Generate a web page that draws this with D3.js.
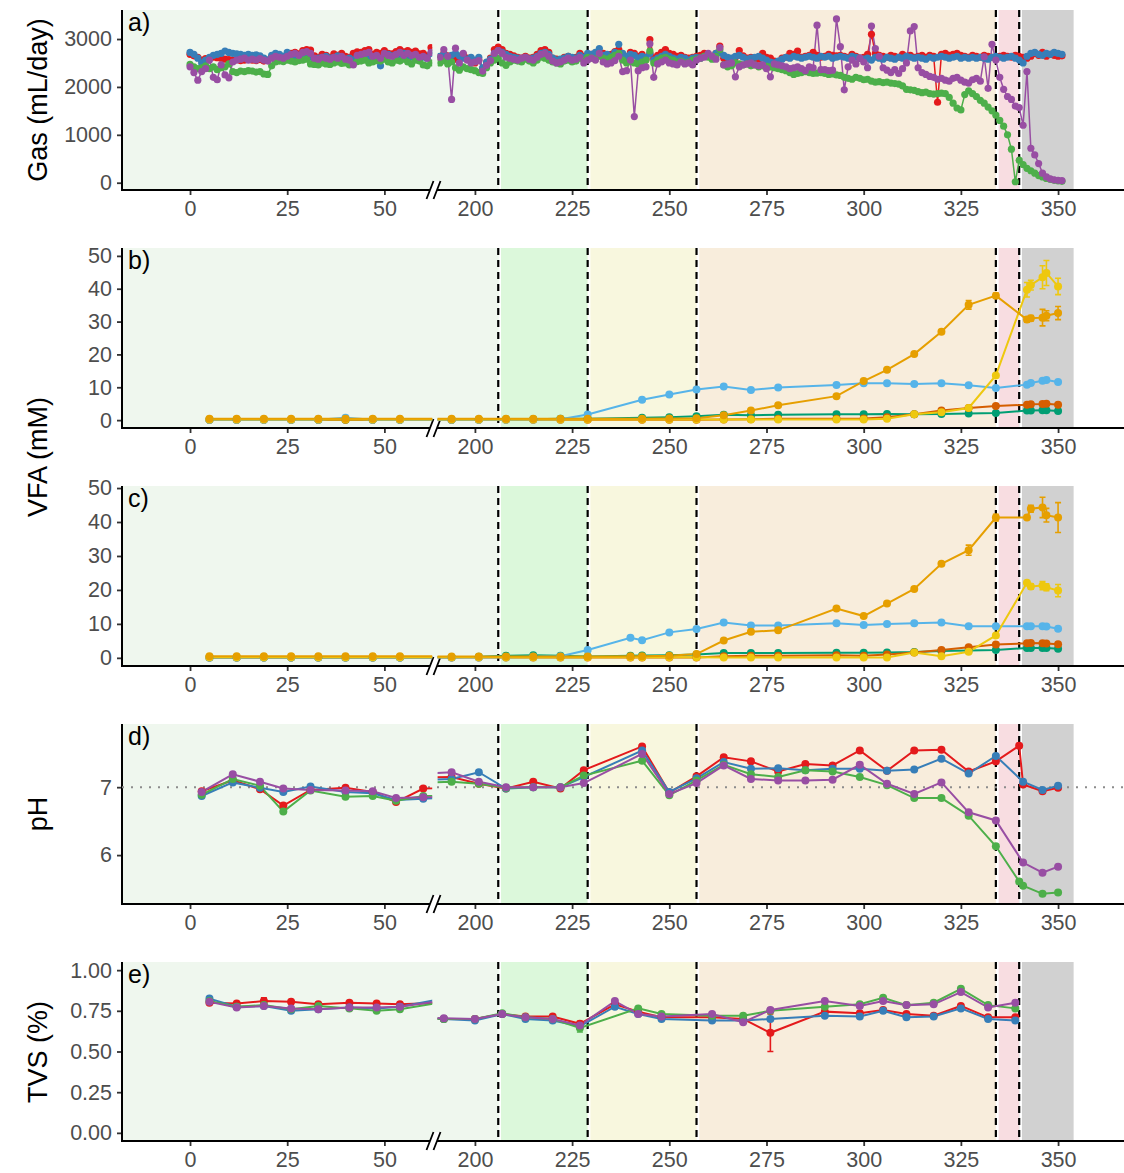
<!DOCTYPE html>
<html>
<head>
<meta charset="utf-8">
<script src="https://cdn.jsdelivr.net/npm/d3@7"></script>
<style>
  body { margin: 0; background: #fff; }
  text { font-family: "Liberation Sans", Arial, Helvetica, sans-serif; }
</style>
</head>
<body>
<script>
//------------------------------- DATA -------------------------------------------

// reactor colours (gas, pH, TVS)
const red = "#E41A1C", blue = "#377EB8", green = "#4DAF4A", purple = "#984EA3";
// VFA colours
const vOrange = "#E69F00", vSky = "#56B4E9", vGreen = "#009E73", vYellow = "#EEC80F", vRed = "#D55E00";

// phases
const phaseStart = [-17.5, 206, 229, 257, 334, 340];
const phaseEnd = [206, 229, 257, 334, 340, 354];
const phaseColor = ["#EFF7EE", "#DCF8DB", "#F8F7DE", "#F8EDDC", "#F8DDE1", "#D1D1D1"];
const phaseLines = [206, 229, 257, 334, 340];

const xTicksLeft = [0, 25, 50];
const xTicksRight = [200, 225, 250, 275, 300, 325, 350];

// ---- gas (mL/day), daily
const gasDaysLeft = d3.range(0, 63);
const gasDaysRight = d3.range(191, 352);

const gasRedLeft = [2680,2650,2620,2560,2590,2600,2620,2610,2600,2580,
  2570,2560,2570,2550,2560,2580,2560,2550,2570,2540,
  2560,2620,2650,2640,2620,2660,2700,2720,2690,2760,
  2780,2770,2650,2620,2680,2660,2620,2690,2660,2700,
  2640,2620,2700,2730,2720,2760,2780,2680,2720,2700,
  2760,2700,2690,2740,2780,2730,2760,2720,2750,2690,
  2700,2650,2820];
const gasBlueLeft = [2720,2680,2600,2500,2560,2620,2660,2680,2700,2750,
  2720,2700,2690,2680,2660,2680,2660,2670,2650,2600,
  2560,2660,2700,2680,2640,2720,2650,2620,2660,2700,
  2680,2620,2580,2600,2620,2640,2600,2620,2650,2620,
  2580,2600,2560,2620,2640,2650,2620,2600,2560,2440,
  2620,2680,2650,2600,2680,2700,2650,2620,2600,2580,
  2620,2600,2700];
const gasGreenLeft = [2470,2420,2380,2400,2440,2380,2420,2360,2400,2420,
  2480,2320,2300,2330,2320,2340,2330,2310,2320,2270,
  2260,2440,2520,2540,2530,2560,2540,2520,2550,2560,
  2580,2480,2470,2460,2500,2480,2470,2500,2520,2490,
  2500,2460,2480,2530,2540,2560,2500,2520,2550,2540,
  2580,2520,2500,2560,2540,2580,2520,2480,2560,2540,
  2460,2440,2500];
const gasPurpleLeft = [2420,2300,2140,2320,2380,2560,2200,2150,2460,2250,
  2190,2520,2560,2580,2600,2560,2580,2560,2590,2560,
  2540,2600,2640,2620,2600,2640,2680,2700,2660,2720,
  2740,2700,2600,2580,2620,2600,2580,2620,2600,2640,
  2580,2560,2460,2660,2680,2700,2720,2640,2660,2600,
  2700,2660,2640,2680,2720,2660,2700,2660,2680,2620,
  2640,2600,2720];

const gasRedRight = [2620,2700,2650,2600,2580,2620,2680,2600,2560,2500,
  2560,2380,2500,2600,2780,2830,2780,2700,2680,2650,
  2620,2600,2640,2600,2620,2680,2760,2780,2720,2600,
  2580,2560,2620,2640,2600,2620,2700,2640,2660,2680,
  2640,2720,2700,2660,2680,2740,2780,2660,2600,2720,
  2700,2640,2680,2580,2990,2600,2660,2720,2780,2700,
  2680,2640,2660,2620,2600,2620,2640,2660,2700,2680,
  2620,2700,2850,2600,2540,2580,2620,2760,2650,2600,
  2620,2560,2580,2700,2620,2600,2540,2520,2600,2620,
  2700,2680,2750,2620,2640,2660,2720,2660,2620,2640,
  2680,2660,2650,2660,2640,2620,2680,2640,2600,2620,
  2680,3100,2700,2660,2640,2620,2660,2640,2620,2680,
  2640,2660,2620,2640,2660,2620,2660,2640,1680,2680,
  2700,2660,2680,2700,2660,2640,2620,2660,2640,2620,
  2660,2640,2620,2600,2640,2660,2640,2620,2660,2640,
  2620,2600,2640,2700,2660,2720,2640,2680,2660,2640,
  2650];
const gasBlueRight = [2640,2680,2620,2660,2700,2650,2600,2580,2620,2560,
  2620,2400,2520,2580,2700,2760,2720,2680,2640,2620,
  2600,2580,2620,2580,2600,2640,2700,2720,2680,2600,
  2560,2580,2600,2640,2620,2600,2660,2620,2700,2680,
  2720,2800,2660,2680,2640,2720,2890,2700,2640,2680,
  2660,2600,2640,2620,2700,2560,2600,2640,2680,2640,
  2600,2580,2620,2600,2560,2600,2620,2600,2640,2660,
  2640,2700,2720,2660,2620,2600,2640,2660,2620,2580,
  2600,2620,2640,2600,2560,2520,2500,2540,2580,2620,
  2600,2640,2620,2600,2620,2640,2620,2600,2640,2620,
  2640,2600,2620,2640,2620,2600,2640,2620,2600,2580,
  2600,2560,2620,2600,2580,2620,2600,2580,2620,2600,
  2640,2620,2600,2620,2600,2580,2620,2600,2620,2640,
  2620,2600,2620,2640,2600,2620,2600,2620,2600,2620,
  2600,2580,2620,2640,2620,2600,2620,2640,2600,2560,
  2500,2640,2700,2720,2680,2660,2700,2680,2720,2700,
  2680];
const gasGreenRight = [2500,2550,2480,2520,2400,2350,2420,2380,2360,2340,
  2300,2280,2400,2500,2560,2600,2500,2450,2520,2560,
  2540,2520,2580,2540,2500,2560,2620,2600,2560,2520,
  2500,2480,2540,2560,2520,2540,2600,2560,2620,2600,
  2580,2640,2600,2580,2620,2660,2700,2560,2500,2540,
  2500,2480,2520,2560,2750,2500,2560,2600,2620,2580,
  2560,2520,2540,2500,2520,2560,2580,2600,2640,2620,
  2580,2640,2780,2460,2420,2440,2500,2480,2460,2480,
  2440,2460,2420,2440,2430,2420,2400,2380,2360,2340,
  2300,2260,2280,2300,2320,2300,2280,2290,2300,2280,
  2260,2270,2250,2240,2200,2180,2160,2200,2180,2150,
  2160,2120,2100,2110,2090,2100,2080,2070,2060,2020,
  1950,1940,1930,1900,1880,1890,1860,1850,1860,1870,
  1860,1780,1660,1560,1520,1840,1920,1860,1800,1720,
  1660,1580,1500,1410,1300,1180,1000,700,20,470,
  380,300,250,200,150,120,90,70,50,40,
  30];
const gasPurpleRight = [2620,2780,2640,1740,2810,2500,2700,2560,2500,2520,
  2550,2330,2450,2550,2700,2760,2700,2620,2600,2580,
  2560,2600,2620,2580,2560,2620,2680,2700,2640,2540,
  2500,2520,2560,2600,2560,2580,2620,2500,2560,2600,
  2560,2700,2520,2480,2500,2550,2640,2320,2340,2560,
  1380,2340,2400,2420,2900,2200,2480,2520,2560,2500,
  2480,2460,2520,2480,2500,2460,2560,2600,2620,2700,
  2640,2580,2820,2460,2480,2500,2210,2420,2460,2480,
  2500,2460,2440,2460,2380,2210,2480,2460,2440,2420,
  2380,2400,2420,2380,2340,2420,2400,3290,2360,2360,
  2340,2350,3420,2840,1940,2420,2560,2480,2600,2520,
  2400,3270,2800,2640,2400,2350,2300,2360,2280,2380,
  2500,3170,3260,2400,2300,2260,2220,2200,2160,2180,
  2140,2120,2180,2200,2140,2100,2080,2150,2180,2120,
  2630,1970,2890,2560,2200,1950,1800,1740,1600,1570,
  1200,2320,720,580,400,200,120,80,60,50,
  45];

// ---- VFA (mM), panel b
const vfaDaysB = [5,12,19,26,33,40,47,54,194,201,208,215,222,229,243,250,257,264,271,278,293,300,306,313,320,327,334,342,343,346,347,350];
const orangeB = [0.4,0.4,0.4,0.4,0.4,0.4,0.4,0.4, 0.4,0.4,0.4,0.4,0.4,0.4,0.4,0.5,0.6,1.5,2.9,4.5,7.3,11.9,15.3,20.1,26.9,35.1,37.9,30.6,31.0,31.2,31.8,32.6];
const orangeBErr = [0,0,0,0,0,0,0,0, 0,0,0,0,0,0,0,0,0,0,0,0,0,0,0,0,0.5,1.3,0.8,0.8,0.8,2.5,1.5,2.0];
const skyB = [0.1,0.1,0.1,0.1,0.1,0.7,0.1,0.1, 0.1,0.1,0.1,0.2,0.3,1.7,6.2,7.8,9.3,10.2,9.2,9.9,10.7,11.2,11.2,11.0,11.2,10.6,9.8,10.8,11.3,12.0,12.2,11.6];
const greenB = [0.1,0.1,0.1,0.1,0.1,0.1,0.1,0.1, 0.1,0.2,0.3,0.3,0.4,0.4,0.7,0.9,1.2,1.6,1.5,1.6,1.8,1.8,1.9,1.8,1.9,2.0,2.2,2.9,2.9,3.0,3.0,2.8];
const yellowB = [0.2,0.2,0.2,0.2,0.2,0.2,0.2,0.2, 0.2,0.2,0.2,0.2,0.2,0.2,0.2,0.2,0.2,0.2,0.2,0.2,0.2,0.2,0.4,1.8,2.4,3.7,13.6,39.7,41.1,43.5,44.8,40.7];
const yellowBErr = [0,0,0,0,0,0,0,0, 0,0,0,0,0,0,0,0,0,0,0,0,0,0,0,0,0,0,0.5,2.2,1.5,3.5,3.8,2.5];
const vermB = [0.1,0.1,0.1,0.1,0.1,0.1,0.1,0.1, 0.1,0.1,0.1,0.1,0.1,0.1,0.1,0.1,0.1,0.2,0.3,0.4,0.4,0.5,0.9,1.8,2.9,3.7,4.3,4.7,4.8,4.9,5.0,4.7];

// ---- VFA (mM), panel c
const vfaDaysC = [5,12,19,26,33,40,47,54,194,201,208,215,222,229,240,243,250,257,264,271,278,293,300,306,313,320,327,334,342,343,346,347,350];
const orangeC = [0.5,0.5,0.5,0.5,0.5,0.5,0.5,0.5, 0.4,0.4,0.4,0.4,0.4,0.4,0.5,0.5,0.6,1.1,5.1,7.7,8.1,14.5,12.3,16.0,20.3,27.7,31.7,41.3,41.3,43.9,44.3,42.0,41.3];
const orangeCErr = [0,0,0,0,0,0,0,0, 0,0,0,0,0,0,0,0,0,0,0,0,0,0,0,0,0,0.5,1.5,1.0,0.5,1.0,3.0,2.0,4.4];
const skyC = [0.1,0.1,0.1,0.1,0.1,0.1,0.1,0.1, 0.1,0.1,0.2,0.3,0.5,2.3,5.9,5.2,7.5,8.5,10.4,9.5,9.5,10.2,9.7,10.0,10.2,10.4,9.3,9.3,9.3,9.3,9.3,9.2,8.6];
const greenC = [0.1,0.1,0.1,0.1,0.1,0.1,0.1,0.1, 0.2,0.3,0.6,0.8,0.6,0.4,0.6,0.7,0.8,1.0,1.4,1.4,1.4,1.5,1.5,1.6,1.7,2.0,2.2,2.3,2.9,2.9,2.9,2.9,2.7];
const yellowC = [0.2,0.2,0.2,0.2,0.2,0.2,0.2,0.2, 0.2,0.2,0.2,0.2,0.2,0.2,0.2,0.2,0.2,0.2,0.1,0.1,0.1,0.1,0.1,0.1,1.6,0.5,1.8,6.6,22.1,21.0,21.3,20.8,19.8];
const yellowCErr = [0,0,0,0,0,0,0,0, 0,0,0,0,0,0,0,0,0,0,0,0,0,0,0,0,0,0,0,0.5,0.5,0.8,1.2,1.0,1.8];
const vermC = [0.1,0.1,0.1,0.1,0.1,0.1,0.1,0.1, 0.1,0.1,0.1,0.1,0.1,0.1,0.1,0.1,0.1,0.1,0.5,0.6,0.6,0.8,0.6,1.0,1.6,2.3,3.1,3.9,4.3,4.4,4.3,4.2,4.0];

// ---- pH
const phDays = [3,11,18,24,31,40,47,53,60,194,201,208,215,222,228,243,250,257,264,271,278,285,292,299,306,313,320,327,334,340,341,346,350];
const phRed = [6.94,7.10,6.97,6.73,6.96,6.99,6.93,6.78,6.98, 7.15,7.05,6.98,7.08,6.98,7.25,7.60,6.92,7.16,7.44,7.38,7.23,7.34,7.32,7.54,7.24,7.54,7.55,7.23,7.38,7.61,7.04,6.94,6.99];
const phBlue = [6.87,7.07,6.99,6.93,7.01,6.93,6.91,6.81,6.83, 7.12,7.22,6.98,7.00,7.00,7.15,7.54,6.93,7.13,7.37,7.27,7.28,7.25,7.27,7.27,7.24,7.26,7.42,7.20,7.46,null,7.08,6.96,7.02];
const phGreen = [6.89,7.12,7.02,6.64,6.95,6.86,6.87,6.80,6.87, 7.08,7.05,6.99,7.00,7.00,7.17,7.39,6.88,7.10,7.33,7.19,7.15,7.25,7.23,7.15,7.03,6.84,6.84,6.58,6.13,5.61,5.55,5.43,5.45];
const phPurple = [6.93,7.19,7.08,6.98,6.96,6.95,6.94,6.84,6.85, 7.22,7.08,7.00,7.00,7.00,7.06,7.49,6.90,7.06,7.32,7.12,7.10,7.10,7.11,7.33,7.05,6.90,7.07,6.63,6.51,null,5.89,5.74,5.83];

// ---- TVS (%)
const tvsDays = [5,12,19,26,33,41,48,54,64,192,200,207,213,220,227,236,242,248,261,269,276,290,299,305,311,318,325,332,339];
const tvsRed = [0.80,0.795,0.81,0.805,0.79,0.80,0.795,0.79,0.80, 0.70,0.70,0.73,0.715,0.715,0.67,0.79,0.745,0.71,0.71,0.70,0.615,0.745,0.735,0.755,0.73,0.72,0.78,0.71,0.71];
const tvsRedErr = [0,0,0.02,0,0,0,0,0,0, 0,0,0,0,0,0.015,0,0,0,0,0,0.115,0.015,0,0,0,0,0,0,0];
const tvsBlue = [0.825,0.775,0.78,0.75,0.76,0.77,0.765,0.775,0.82, 0.70,0.69,0.73,0.70,0.69,0.655,0.775,0.73,0.70,0.69,0.69,0.70,0.72,0.715,0.75,0.71,0.715,0.765,0.70,0.69];
const tvsGreen = [0.81,0.775,0.785,0.76,0.78,0.765,0.75,0.76,0.80, 0.70,0.70,0.735,0.71,0.70,0.645,null,0.765,0.73,0.72,0.72,0.75,0.775,0.79,0.83,0.785,0.80,0.885,0.785,0.765];
const tvsGreenErr = [0,0,0,0,0,0,0,0,0, 0,0,0,0,0,0.025,0,0,0,0,0,0,0,0,0,0,0,0,0,0];
const tvsPurple = [0.805,0.77,0.78,0.765,0.76,0.77,0.77,0.775,0.81, 0.705,0.70,0.73,0.71,0.70,0.66,0.81,0.73,0.715,0.73,0.68,0.755,0.81,0.78,0.81,0.785,0.79,0.865,0.77,0.80];

//------------------------------- LAYOUT -----------------------------------------
const width = 1124, height = 1173;
const left = 122, right = 1124;

// broken x axis: two sub-panels with their own scale
const xL = d3.scaleLinear().domain([-17.5, 62.3]).range([left, 432.2]);
const xR = d3.scaleLinear().domain([190.4, 380]).range([437.6, 1174.7]);
const sides = [{x: xL, key: "L", x0: left, x1: 432.2}, {x: xR, key: "R", x0: 437.6, x1: right}];
const xpos = d => d <= 62.3 ? xL(d) : xR(d);

const svg = d3.select("body").append("svg")
  .attr("width", width)
  .attr("height", height);

const defs = svg.append("defs");

function makePanel(id, top, bottom, domain, ticks, fmt) {
  const y = d3.scaleLinear().domain(domain).range([bottom, top]);
  const g = svg.append("g");
  sides.forEach(s => {
    defs.append("clipPath").attr("id", "clip" + s.key + id)
      .append("rect").attr("x", s.x0).attr("y", top).attr("width", s.x1 - s.x0).attr("height", bottom - top);
  });

  // phase backgrounds
  phaseStart.forEach((s, i) => {
    g.append("rect")
      .attr("x", i === 0 ? left : xpos(s))
      .attr("y", top)
      .attr("width", xpos(phaseEnd[i]) - (i === 0 ? left : xpos(s)))
      .attr("height", bottom - top)
      .attr("fill", phaseColor[i]);
  });
  phaseLines.forEach(d => {
    g.append("line").attr("x1", xpos(d) + 1.5).attr("x2", xpos(d) + 1.5).attr("y1", top).attr("y2", bottom)
      .attr("stroke", "#fff").attr("stroke-width", 2.5);
    g.append("line").attr("x1", xpos(d)).attr("x2", xpos(d)).attr("y1", top).attr("y2", bottom)
      .attr("stroke", "#000").attr("stroke-width", 2.2).attr("stroke-dasharray", "7,5");
  });

  // y axis
  const yAxis = d3.axisLeft(y).tickValues(ticks).tickSize(5).tickSizeOuter(0).tickPadding(5)
    .tickFormat(fmt || (d => String(d)));
  const ya = g.append("g").attr("transform", `translate(${left},0)`).call(yAxis);
  ya.select(".domain").remove();
  ya.append("line").attr("x1", 0).attr("x2", 0).attr("y1", top).attr("y2", bottom + 1)
    .attr("stroke", "#000").attr("stroke-width", 2);

  // x axes
  [[xL, xTicksLeft], [xR, xTicksRight]].forEach(([sc, tv]) => {
    const xa = g.append("g").attr("transform", `translate(0,${bottom})`)
      .call(d3.axisBottom(sc).tickValues(tv).tickSize(5).tickPadding(6).tickFormat(d => String(d)));
    xa.select(".domain").remove();
  });
  g.append("line").attr("x1", left - 1).attr("x2", right).attr("y1", bottom).attr("y2", bottom)
    .attr("stroke", "#000").attr("stroke-width", 2);

  g.selectAll(".tick line").attr("stroke", "#333").attr("stroke-width", 1.8);
  g.selectAll(".tick text").attr("font-size", 21.5).attr("fill", "#4D4D4D")
    .attr("font-family", "Liberation Sans, Arial, sans-serif");

  // break mark
  const bx = 434.5;
  g.append("path")
    .attr("d", `M${bx - 8},${bottom + 9}L${bx - 1},${bottom - 9}L${bx + 6},${bottom - 9}L${bx - 1},${bottom + 9}Z`)
    .attr("fill", "#fff");
  g.append("path")
    .attr("d", `M${bx - 8},${bottom + 9}L${bx - 1},${bottom - 9}M${bx - 1},${bottom + 9}L${bx + 6},${bottom - 9}`)
    .attr("stroke", "#000").attr("stroke-width", 1.8);

  g.append("text").attr("x", 128).attr("y", top + 21).attr("font-size", 25).attr("fill", "#000").text(id + ")");

  const plot = g.append("g");
  return {id, y, g: plot, top, bottom};
}

function drawSeries(panel, days, list, r, lw) {
  const data = list.map(s => ({
    color: s.color,
    pts: days.map((d, i) => ({day: d, v: s.values[i], e: s.err ? s.err[i] : 0})).filter(p => p.v != null)
  }));
  const y = panel.y;
  sides.forEach(s => {
    const g = panel.g.append("g").attr("clip-path", `url(#clip${s.key}${panel.id})`);
    data.forEach(sr => {
      g.append("path").datum(sr.pts)
        .attr("d", d3.line().x(p => s.x(p.day)).y(p => y(p.v)))
        .attr("fill", "none").attr("stroke", sr.color).attr("stroke-width", lw);
    });
    data.forEach(sr => {
      g.selectAll(null).data(sr.pts.filter(p => p.e > 0)).join("path")
        .attr("d", p => {
          const cx = s.x(p.day), y0 = y(p.v - p.e), y1 = y(p.v + p.e);
          return `M${cx - 3},${y0}H${cx + 3}M${cx},${y0}V${y1}M${cx - 3},${y1}H${cx + 3}`;
        })
        .attr("fill", "none").attr("stroke", sr.color).attr("stroke-width", 1.6);
    });
    data.forEach(sr => {
      g.selectAll(null).data(sr.pts).join("circle")
        .attr("cx", p => s.x(p.day)).attr("cy", p => y(p.v)).attr("r", r).attr("fill", sr.color);
    });
  });
}

//------------------------------- PLOTTING ---------------------------------------
const pa = makePanel("a", 10, 190, [-152, 3606], [0, 1000, 2000, 3000]);
const pb = makePanel("b", 248, 428, [-2.4, 52.4], [0, 10, 20, 30, 40, 50]);
const pc = makePanel("c", 486, 666, [-2.4, 50.6], [0, 10, 20, 30, 40, 50]);
const pd = makePanel("d", 724, 904, [5.28, 7.93], [6, 7]);
const pe = makePanel("e", 962, 1141, [-0.05, 1.05], [0, 0.25, 0.5, 0.75, 1], d3.format(".2f"));

// pH reference line at 7
pd.g.append("line").attr("x1", left).attr("x2", right).attr("y1", pd.y(7)).attr("y2", pd.y(7))
  .attr("stroke", "#8c8c8c").attr("stroke-width", 2).attr("stroke-dasharray", "2,7");

drawSeries(pa, gasDaysLeft.concat(gasDaysRight), [
  {color: red, values: gasRedLeft.concat(gasRedRight)},
  {color: blue, values: gasBlueLeft.concat(gasBlueRight)},
  {color: green, values: gasGreenLeft.concat(gasGreenRight)},
  {color: purple, values: gasPurpleLeft.concat(gasPurpleRight)}
], 3.6, 1.5);

drawSeries(pb, vfaDaysB, [
  {color: vGreen, values: greenB},
  {color: vRed, values: vermB},
  {color: vSky, values: skyB},
  {color: vYellow, values: yellowB, err: yellowBErr},
  {color: vOrange, values: orangeB, err: orangeBErr}
], 4, 2);

drawSeries(pc, vfaDaysC, [
  {color: vGreen, values: greenC},
  {color: vRed, values: vermC},
  {color: vSky, values: skyC},
  {color: vYellow, values: yellowC, err: yellowCErr},
  {color: vOrange, values: orangeC, err: orangeCErr}
], 4, 2);

drawSeries(pd, phDays, [
  {color: red, values: phRed},
  {color: blue, values: phBlue},
  {color: green, values: phGreen},
  {color: purple, values: phPurple}
], 4, 2);

drawSeries(pe, tvsDays, [
  {color: red, values: tvsRed, err: tvsRedErr},
  {color: blue, values: tvsBlue},
  {color: green, values: tvsGreen, err: tvsGreenErr},
  {color: purple, values: tvsPurple}
], 4, 2);

// y axis titles
const titles = [["Gas (mL/day)", 100], ["VFA (mM)", 457], ["pH", 814], ["TVS (%)", 1052]];
titles.forEach(([t, cy]) => {
  svg.append("text")
    .attr("transform", `translate(38,${cy}) rotate(-90)`)
    .attr("text-anchor", "middle").attr("dominant-baseline", "central")
    .attr("font-size", 27).attr("fill", "#000").text(t);
});
</script>
</body>
</html>
